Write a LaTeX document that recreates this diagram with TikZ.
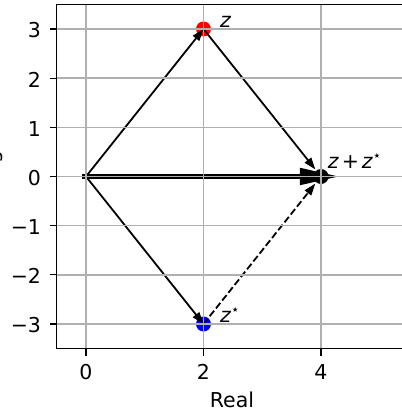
\documentclass[tikz,border=0pt]{standalone}
\usepackage{fontspec}
\setmainfont{DejaVu Sans}
\usetikzlibrary{arrows.meta}
\definecolor{gridc}{HTML}{B0B0B0}
\begin{document}
\begin{tikzpicture}[x=58.75pt,y=49.17pt,
  lbl/.style={inner sep=0pt,outer sep=0pt,font=\fontsize{20.5}{24.6}\selectfont},
  dot/.style={circle,inner sep=0pt,minimum size=15pt},
  gridline/.style={draw=gridc,line width=1.6pt},
  spine/.style={draw=black,line width=1.25pt},
  tickmark/.style={draw=black,line width=1.25pt},
  vec/.style={draw=black,line width=1.8pt,-{Triangle[length=12pt,width=8pt]}},
  dashvec/.style={vec,dash pattern=on 7pt off 3pt},
  bigvec/.style={draw=black,line width=5pt,-{Triangle[length=40pt,width=16pt]}}]
\useasboundingbox (-1.4638,-4.8098) rectangle (5.3787,3.5896);
\fill[white] (-1.4638,-4.8098) rectangle (5.3787,3.5896);
% points
\node[dot,fill=red] (z) at (2,3) {};
\node[dot,fill=blue] (zs) at (2,-3) {};
\node[dot,fill=black] (s) at (4,0) {};
\coordinate (o) at (0,0);
\coordinate (otail) at (-0.06,0);
\coordinate (stip) at (4.32,0);
% vectors
\draw[bigvec] (otail) -- (stip);
\draw[vec] (o) -- (z.center);
\draw[vec] (o) -- (zs.center);
\draw[vec,shorten >=9pt] (z.center) -- (s.center);
\draw[dashvec,shorten >=9pt] (zs.center) -- (s.center);
% grid
\foreach \gx in {0,2,4} \draw[gridline] (\gx,-3.5) -- (\gx,3.5);
\foreach \gy in {-3,...,3} \draw[gridline] (-0.5,\gy) -- (5.3787,\gy);
% spines
\draw[spine] (5.3787,3.5) -- (-0.5,3.5) -- (-0.5,-3.5) -- (5.3787,-3.5);
% ticks
\foreach \gx in {0,2,4} {
  \draw[tickmark] (\gx,-3.5) -- ++(0,-7pt);
  \node[lbl,anchor=base] (xt\gx) at (\gx,-4.128) {\gx};
}
\foreach \gy/\t in {3/3,2/2,1/1,0/0,-1/−1,-2/−2,-3/−3} {
  \draw[tickmark] (-0.5,\gy) -- ++(-7pt,0);
  \node[lbl,anchor=east] (yt\gy) at ([yshift=-1.3pt]-0.766,\gy) {\t};
}
% labels
\node[lbl,anchor=base west] (lz) at (2.281,3.040) {\itshape z};
\node[lbl,anchor=base west] (lzs) at (2.281,-2.979) {\itshape z\raisebox{8pt}{\fontsize{14}{15}\selectfont\upshape ⋆}};
\node[lbl,anchor=base west] (lsum) at (4.119,0.153) {\itshape z\hspace{3pt}\upshape+\hspace{3pt}\itshape z\raisebox{8pt}{\fontsize{14}{15}\selectfont\upshape ⋆}};
\node[lbl,anchor=base] (xl) at (2.485,-4.698) {Real};
\node[lbl,rotate=90,anchor=south] (yl) at (-1.421,0) {Imag};
\end{tikzpicture}
\end{document}
